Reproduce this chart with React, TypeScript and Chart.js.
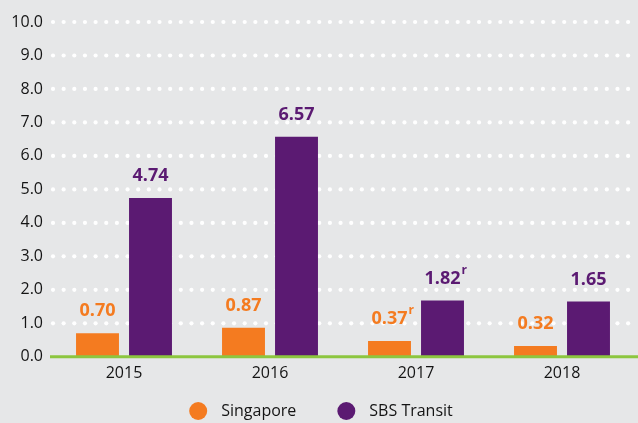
import React, { useEffect, useRef } from "react";
import { Chart, registerables } from "chart.js";

Chart.register(...registerables);

const years = ["2015", "2016", "2017", "2018"];
const singaporeValues = [0.7, 0.87, 0.47, 0.32];
const sbsValues = [4.74, 6.57, 1.68, 1.65];
const singaporeLabels = ["0.70", "0.87", "0.37", "0.32"];
const sbsLabels = ["4.74", "6.57", "1.82", "1.65"];
const singaporeRevised = [false, false, true, false];
const sbsRevised = [false, false, true, false];
const yTicks = [0, 1, 2, 3, 4, 5, 6, 7, 8, 9, 10];

const ORANGE = "#f47b20";
const PURPLE = "#5b1a72";
const BG = "#e6e7e8";
const GREEN = "#8cc63f";
const TEXT = "#141414";
const FONT = "'Open Sans', Lato, sans-serif";

const bgPlugin = {
  id: "bgPlugin",
  beforeDraw(chart: any) {
    const { ctx, width, height } = chart;
    ctx.save();
    ctx.fillStyle = BG;
    ctx.fillRect(0, 0, width, height);
    ctx.restore();
  },
};

const dotGridPlugin = {
  id: "dotGrid",
  beforeDatasetsDraw(chart: any) {
    const { ctx, width, chartArea } = chart;
    const y = chart.scales.y;
    ctx.save();
    ctx.fillStyle = "#ffffff";
    yTicks.forEach((v) => {
      if (v === 0) return;
      const py = y.getPixelForValue(v);
      for (let x = chartArea.left + 2; x < width; x += 10.65) {
        ctx.beginPath();
        ctx.arc(x, py, 2.1, 0, Math.PI * 2);
        ctx.fill();
      }
    });
    ctx.restore();
  },
  afterDatasetsDraw(chart: any) {
    const { ctx, width, chartArea } = chart;
    const y = chart.scales.y;
    const py = y.getPixelForValue(0);
    ctx.save();
    ctx.strokeStyle = GREEN;
    ctx.lineWidth = 3;
    ctx.beginPath();
    ctx.moveTo(chartArea.left - 1, py);
    ctx.lineTo(width, py);
    ctx.stroke();
    ctx.restore();
  },
};

const labelPlugin = {
  id: "barLabels",
  afterDatasetsDraw(chart: any) {
    const { ctx } = chart;
    const sets = [
      { labels: singaporeLabels, revised: singaporeRevised, color: ORANGE },
      { labels: sbsLabels, revised: sbsRevised, color: PURPLE },
    ];
    ctx.save();
    sets.forEach((s, di) => {
      const meta = chart.getDatasetMeta(di);
      meta.data.forEach((bar: any, i: number) => {
        const text = s.labels[i];
        const cy = bar.y - 22;
        ctx.font = `bold 18px ${FONT}`;
        ctx.fillStyle = s.color;
        ctx.textBaseline = "middle";
        ctx.textAlign = "center";
        ctx.fillText(text, bar.x, cy);
        if (s.revised[i]) {
          const w = ctx.measureText(text).width;
          ctx.font = `bold 12px ${FONT}`;
          ctx.textAlign = "left";
          ctx.fillText("r", bar.x + w / 2 + 1, cy - 8);
        }
      });
    });
    ctx.restore();
  },
};

const legendPlugin = {
  id: "customLegend",
  afterDraw(chart: any) {
    const { ctx, width } = chart;
    const ds = chart.data.datasets;
    const cy = 411;
    const r = 9;
    const gapCircleText = 14;
    const itemGap = 41;
    ctx.save();
    ctx.font = `16px ${FONT}`;
    const widths = ds.map((d: any) => 2 * r + gapCircleText + ctx.measureText(d.label).width);
    const total = widths.reduce((a: number, b: number) => a + b, 0) + itemGap * (ds.length - 1);
    let x = width / 2 - total / 2 + 2;
    ds.forEach((d: any, i: number) => {
      ctx.fillStyle = d.backgroundColor;
      ctx.beginPath();
      ctx.arc(x + r, cy, r, 0, Math.PI * 2);
      ctx.fill();
      ctx.fillStyle = TEXT;
      ctx.textBaseline = "middle";
      ctx.textAlign = "left";
      ctx.fillText(d.label, x + 2 * r + gapCircleText, cy);
      x += widths[i] + itemGap;
    });
    ctx.restore();
  },
};

export default function App() {
  const ref = useRef<HTMLCanvasElement | null>(null);

  useEffect(() => {
    document.body.style.margin = "0";
    document.body.style.background = BG;
    if (!ref.current) return;
    const chart = new Chart(ref.current, {
      type: "bar",
      data: {
        labels: years,
        datasets: [
          {
            label: "Singapore",
            data: singaporeValues,
            backgroundColor: ORANGE,
            categoryPercentage: 0.726,
            barPercentage: 0.81,
          },
          {
            label: "SBS Transit",
            data: sbsValues,
            backgroundColor: PURPLE,
            categoryPercentage: 0.726,
            barPercentage: 0.81,
          },
        ],
      },
      options: {
        responsive: false,
        animation: false,
        layout: { padding: { top: 22, right: 3, bottom: 33, left: 0 } },
        plugins: {
          legend: { display: false },
          tooltip: { enabled: false },
        },
        scales: {
          x: {
            grid: { display: false, drawTicks: false },
            border: { display: false },
            ticks: {
              color: TEXT,
              padding: 7,
              font: { family: FONT, size: 16 },
            },
          },
          y: {
            min: 0,
            max: 10,
            afterFit(scale: any) {
              scale.width = 51;
            },
            grid: { display: false, drawTicks: false },
            border: { display: false },
            ticks: {
              stepSize: 1,
              padding: 8,
              color: TEXT,
              font: { family: FONT, size: 16 },
              callback: (v: any) => Number(v).toFixed(1),
            },
          },
        },
      },
      plugins: [bgPlugin, dotGridPlugin, labelPlugin, legendPlugin],
    });
    return () => chart.destroy();
  }, []);

  return (
    <div style={{ width: 638, height: 423 }}>
      <canvas ref={ref} width={638} height={423} style={{ display: "block" }} />
    </div>
  );
}
